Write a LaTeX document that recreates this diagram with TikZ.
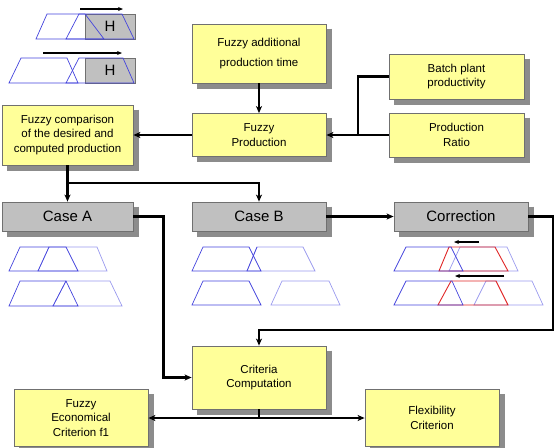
\documentclass[tikz,border=0pt]{standalone}
\usepackage{fontspec}
\setmainfont{Liberation Sans}
\usetikzlibrary{arrows.meta,calc}
\definecolor{yfill}{HTML}{FFFF99}
\definecolor{bord}{HTML}{707070}
\definecolor{gfill}{HTML}{C0C0C0}
\definecolor{sgrey}{HTML}{8C8C8C}
\definecolor{fblue}{HTML}{4444DD}
\definecolor{lblue}{HTML}{9A9AEE}
\definecolor{fred}{HTML}{E02828}
\tikzset{
  ybox/.style={draw=bord, line width=0.8pt, fill=yfill, align=center, inner sep=2pt,
    font=\fontsize{11.5}{14.5}\selectfont},
  gbox/.style={draw=bord, line width=0.8pt, fill=gfill, align=center,
    font=\fontsize{15}{18}\selectfont},
  sline/.style={draw=sgrey, line width=5pt, line cap=butt, line join=miter},
  conn/.style={line width=2.4pt, -{Stealth[length=7pt,width=6pt,inset=2pt]}},
  link/.style={line width=2.4pt},
  dconn/.style={line width=2.4pt, {Stealth[length=7pt,width=6pt,inset=2pt]}-{Stealth[length=7pt,width=6pt,inset=2pt]}},
  small/.style={line width=1.1pt, -{Stealth[length=5pt,width=4pt]}},
  tb/.style={draw=fblue, line width=0.7pt},
  tl/.style={draw=lblue, line width=0.7pt},
  tr/.style={draw=fred, line width=0.9pt},
  hbox/.style={draw=bord, line width=0.8pt, fill=gfill}
}
\newcommand{\dropsh}[1]{\draw[sline] ($(#1.north east)+(3,5)$) -- ($(#1.south east)+(3,3)$) -- ($(#1.south west)+(5,3)$);}
\begin{document}
\begin{tikzpicture}[x=1pt,y=-1pt]
\useasboundingbox (0,0) rectangle (558,448);

% boxes, each followed by its shadow strip
\node[ybox, minimum width=134pt, minimum height=59pt, font=\fontsize{11.5}{20}\selectfont] (fat) at (259,53.5) {Fuzzy additional\\production time};
\dropsh{fat}
\node[ybox, minimum width=134pt, minimum height=43pt] (fp) at (259,135) {Fuzzy\\Production};
\dropsh{fp}
\node[ybox, minimum width=135pt, minimum height=45pt] (bpp) at (456.5,76.5) {Batch plant\\productivity};
\dropsh{bpp}
\node[ybox, minimum width=135pt, minimum height=44pt] (pr) at (456.5,135) {Production\\Ratio};
\dropsh{pr}
\node[ybox, minimum width=131pt, minimum height=60pt] (fc) at (67.5,135) {Fuzzy comparison\\of the desired and\\computed production};
\dropsh{fc}
\node[gbox, minimum width=131pt, minimum height=29pt] (caseA) at (67.5,216.5) {Case A};
\dropsh{caseA}
\node[gbox, minimum width=134pt, minimum height=29pt] (caseB) at (259,216.5) {Case B};
\dropsh{caseB}
\node[gbox, minimum width=134pt, minimum height=29pt] (corr) at (461,216.5) {Correction};
\dropsh{corr}
\node[ybox, minimum width=134pt, minimum height=63pt] (cc) at (259,377.5) {Criteria\\Computation};
\dropsh{cc}
\node[ybox, minimum width=134pt, minimum height=57pt] (fec) at (81,418) {Fuzzy\\Economical\\Criterion f1};
\dropsh{fec}
\node[ybox, minimum width=134pt, minimum height=57pt] (flex) at (432,418) {Flexibility\\Criterion};
\dropsh{flex}

% connectors
\coordinate (j1) at (358,135);
\coordinate (j2) at (67.5,183);
\coordinate (k1) at (553,330);
\draw[conn] (fat.south) -- (fp.north);
\draw[link] (bpp.west) -| (j1);
\draw[conn] (pr.west) -- (fp.east);
\draw[conn] (fp.west) -- (fc.east);
\draw[conn] (fc.south) -- (caseA.north);
\draw[conn] (j2) -| (caseB.north);
\draw[conn] (caseA.east) -- ++(30,0) |- (cc.west);
\draw[conn] (caseB.east) -- (corr.west);
\draw[conn] (corr.east) -| (k1) -| (cc.north);
\draw[dconn] (fec.east) -- (flex.west);
\draw[link] (cc.south) -- (cc.south |- fec.east);

% top-left H sketches
\node[hbox, minimum width=50pt, minimum height=25pt, inner sep=0pt, font=\fontsize{15}{18}\selectfont] (h1) at (110,26.5) {H};
\node[hbox, minimum width=50pt, minimum height=25pt, inner sep=0pt, font=\fontsize{15}{18}\selectfont] (h2) at (110,70.5) {H};
\draw[tb] (36,39) -- (47,14) -- (85,14) -- (104,39) -- cycle;
\draw[tb] (66,39) -- (79,14) -- (122,14) -- (134,39) -- cycle;
\draw[tb] (9,83) -- (21,58) -- (67,58) -- (78,83) -- cycle;
\draw[tb] (66,83) -- (79,58) -- (123,58) -- (134,83) -- cycle;
\coordinate (a1s) at (80,9); \coordinate (a1e) at (123,9);
\coordinate (a2s) at (43,53); \coordinate (a2e) at (122,53);
\draw[small] (a1s) -- (a1e);
\draw[small] (a2s) -- (a2e);

% Case A sketches
\draw[tl] (38,271) -- (49,247) -- (97,247) -- (107,271) -- cycle;
\draw[tb] (9,271) -- (20,247) -- (66,247) -- (78,271) -- cycle;
\draw[tb] (38,271) -- (49,247);
\draw[tl] (53,306) -- (66,281) -- (110,281) -- (122,306) -- cycle;
\draw[tb] (9,306) -- (20,281) -- (66,281) -- (78,306) -- cycle;
\draw[tb] (53,306) -- (66,281);

% Case B sketches
\draw[tl] (247,271) -- (257,247) -- (303,247) -- (315,271) -- cycle;
\draw[tb] (192,271) -- (203,247) -- (249,247) -- (261,271) -- cycle;
\draw[tb] (247,271) -- (257,247);
\draw[tl] (271,305) -- (282,281) -- (329,281) -- (340,305) -- cycle;
\draw[tb] (192,305) -- (203,281) -- (249,281) -- (261,305) -- cycle;

% Correction sketches
\draw[tl] (449,271) -- (460,247) -- (507,247) -- (518,271) -- cycle;
\draw[tr] (439,271) -- (449,247) -- (495,247) -- (508,271) -- cycle;
\draw[tb] (394,271) -- (406,247) -- (451,247) -- (463,271) -- cycle;
\draw[tl] (474,305) -- (486,281) -- (532,281) -- (543,305) -- cycle;
\draw[tr] (438,305) -- (451,281) -- (496,281) -- (508,305) -- cycle;
\draw[tb] (394,305) -- (406,281) -- (452,281) -- (463,305) -- cycle;
\coordinate (c1s) at (479,242); \coordinate (c1e) at (454,242);
\coordinate (c2s) at (504,276); \coordinate (c2e) at (455,276);
\draw[small] (c1s) -- (c1e);
\draw[small] (c2s) -- (c2e);
\end{tikzpicture}
\end{document}
